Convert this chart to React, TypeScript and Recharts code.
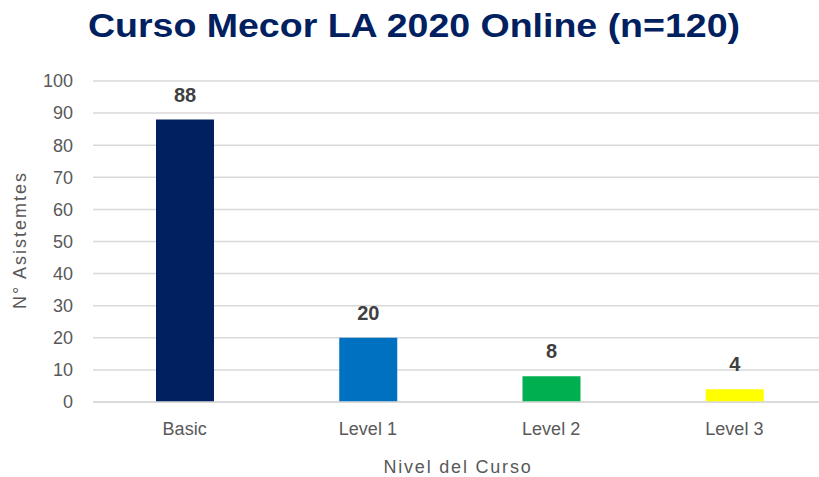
import React from 'react';
import { BarChart, Bar, XAxis, YAxis, CartesianGrid, Cell, LabelList } from 'recharts';

const categories = ['Basic', 'Level 1', 'Level 2', 'Level 3'];
const asistentes = [88, 20, 8, 4];
const barColors = ['#002060', '#0070C0', '#00B050', '#FFFF00'];
const yTicks = [0, 10, 20, 30, 40, 50, 60, 70, 80, 90, 100];

const data = categories.map((name, i) => ({ name, value: asistentes[i] }));

const FONT = '"Liberation Sans", Arial, sans-serif';

export default function App() {
  return (
    <div
      style={{
        position: 'absolute',
        left: 0,
        top: 0,
        width: 819,
        height: 477,
        overflow: 'hidden',
        background: '#fff',
      }}
    >
      <div style={{ position: 'absolute', left: 8, top: 8 }}>
        <BarChart
          width={818}
          height={469}
          data={data}
          margin={{ top: 73, right: 0, left: 0, bottom: 45 }}
        >
          <CartesianGrid vertical={false} stroke="#d9d9d9" strokeWidth={1.5} />
          <XAxis
            dataKey="name"
            height={30}
            axisLine={{ stroke: '#d9d9d9', strokeWidth: 1.5 }}
            tickLine={false}
            tickMargin={14}
            tick={{ fill: '#595959', fontSize: 18, fontFamily: FONT }}
            interval={0}
          />
          <YAxis
            width={85}
            domain={[0, 100]}
            ticks={yTicks}
            axisLine={false}
            tickLine={false}
            tickMargin={14}
            tick={{ fill: '#595959', fontSize: 18, fontFamily: FONT }}
          />
          <Bar dataKey="value" barSize={58} isAnimationActive={false}>
            {data.map((d, i) => (
              <Cell key={d.name} fill={barColors[i]} />
            ))}
            <LabelList
              dataKey="value"
              position="top"
              offset={18}
              style={{ fill: '#404040', fontSize: 20, fontWeight: 'bold', fontFamily: FONT }}
            />
          </Bar>
        </BarChart>
      </div>
      <svg
        width={819}
        height={477}
        style={{ position: 'absolute', left: 0, top: 0, pointerEvents: 'none' }}
      >
        <text
          x={414}
          y={37}
          textAnchor="middle"
          fill="#002060"
          fontFamily={FONT}
          fontWeight="bold"
          fontSize={33}
          textLength={652}
          lengthAdjust="spacingAndGlyphs"
        >
          Curso Mecor LA 2020 Online (n=120)
        </text>
        <text
          x={20}
          y={240}
          transform="rotate(-90 20 240)"
          textAnchor="middle"
          dominantBaseline="central"
          fill="#595959"
          fontFamily={FONT}
          fontSize={18}
          letterSpacing={2}
        >
          N° Asistemtes
        </text>
        <text
          x={458}
          y={467}
          textAnchor="middle"
          dominantBaseline="central"
          fill="#595959"
          fontFamily={FONT}
          fontSize={18}
          letterSpacing={1.8}
        >
          Nivel del Curso
        </text>
      </svg>
    </div>
  );
}
